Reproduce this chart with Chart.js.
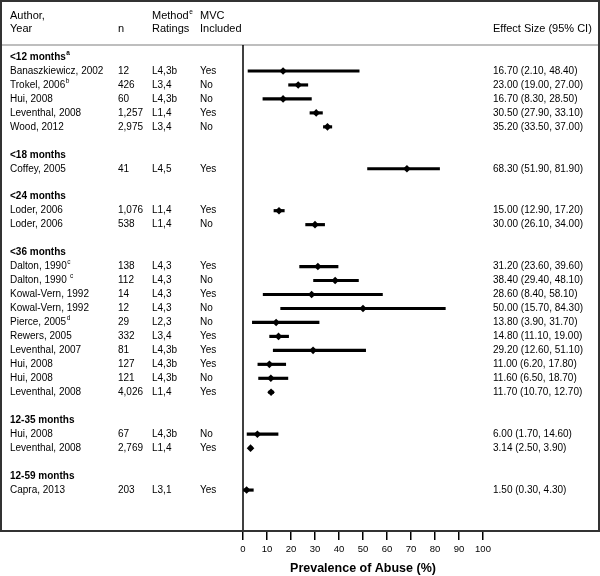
<!DOCTYPE html>
<html>
<head>
<meta charset="utf-8">
<script src="https://cdn.jsdelivr.net/npm/chart.js@4"></script>
<style>
  body { margin: 0; background: #fff; }
  #wrap { width: 600px; height: 576px; }
</style>
</head>
<body>
<div id="wrap"><canvas id="forest" width="600" height="576"></canvas></div>
<script>
// one entry per row of the plot (group headers and blank spacer rows included)
const rowLabels = [
    '<12 months', 'Banaszkiewicz, 2002', 'Trokel, 2006', 'Hui, 2008', 'Leventhal, 2008', 'Wood, 2012', '',
    '<18 months', 'Coffey, 2005', '',
    '<24 months', 'Loder, 2006', 'Loder, 2006', '',
    '<36 months', 'Dalton, 1990', 'Dalton, 1990 ', 'Kowal-Vern, 1992', 'Kowal-Vern, 1992', 'Pierce, 2005',
    'Rewers, 2005', 'Leventhal, 2007', 'Hui, 2008', 'Hui, 2008', 'Leventhal, 2008', '',
    '12-35 months', 'Hui, 2008', 'Leventhal, 2008', '',
    '12-59 months', 'Capra, 2013'
];
const rowSup = ['a', '', 'b', '', '', '', '', '', '', '', '', '', '', '', '', 'c', 'c', '', '', 'd',
    '', '', '', '', '', '', '', '', '', '', '', ''];
const groupRows = [0, 7, 10, 14, 26, 30];
const rowN = ['', '12', '426', '60', '1,257', '2,975', '', '', '41', '', '', '1,076', '538', '', '',
    '138', '112', '14', '12', '29', '332', '81', '127', '121', '4,026', '', '', '67', '2,769', '', '', '203'];
const rowMethod = ['', 'L4,3b', 'L3,4', 'L4,3b', 'L1,4', 'L3,4', '', '', 'L4,5', '', '', 'L1,4', 'L1,4', '', '',
    'L4,3', 'L4,3', 'L4,3', 'L4,3', 'L2,3', 'L3,4', 'L4,3b', 'L4,3b', 'L4,3b', 'L1,4', '', '', 'L4,3b', 'L1,4', '', '', 'L3,1'];
const rowMvc = ['', 'Yes', 'No', 'No', 'Yes', 'No', '', '', 'Yes', '', '', 'Yes', 'No', '', '',
    'Yes', 'No', 'Yes', 'No', 'No', 'Yes', 'Yes', 'Yes', 'No', 'Yes', '', '', 'No', 'Yes', '', '', 'Yes'];
const est = [null, 16.70, 23.00, 16.70, 30.50, 35.20, null, null, 68.30, null, null, 15.00, 30.00, null, null,
    31.20, 38.40, 28.60, 50.00, 13.80, 14.80, 29.20, 11.00, 11.60, 11.70, null, null, 6.00, 3.14, null, null, 1.50];
const ciLow = [null, 2.10, 19.00, 8.30, 27.90, 33.50, null, null, 51.90, null, null, 12.90, 26.10, null, null,
    23.60, 29.40, 8.40, 15.70, 3.90, 11.10, 12.60, 6.20, 6.50, 10.70, null, null, 1.70, 2.50, null, null, 0.30];
const ciHigh = [null, 48.40, 27.00, 28.50, 33.10, 37.00, null, null, 81.90, null, null, 17.20, 34.00, null, null,
    39.60, 48.10, 58.10, 84.30, 31.70, 19.00, 51.10, 17.80, 18.70, 12.70, null, null, 14.60, 3.90, null, null, 4.30];
const xTicks = [0, 10, 20, 30, 40, 50, 60, 70, 80, 90, 100];

const FONT = '"Liberation Sans", Arial, Helvetica, sans-serif';

const pointData = [];
const ciData = [];
est.forEach(function(v, i) {
    if (v === null) return;
    pointData.push({ x: v, y: i });
    ciData.push({ x: [ciLow[i], ciHigh[i]], y: i });
});

function textWithSup(ctx, text, sup, x, y, size, bold) {
    ctx.font = (bold ? 'bold ' : '') + size + 'px ' + FONT;
    ctx.fillText(text, x, y);
    if (sup) {
        const w = ctx.measureText(text).width;
        ctx.font = (bold ? 'bold ' : '') + '6.5px ' + FONT;
        ctx.fillText(sup, x + w + 0.5, y - 4);
    }
}

const tablePlugin = {
    id: 'tablePlugin',
    afterDraw(chart) {
        const ctx = chart.ctx;
        const x = chart.scales.x;
        const y = chart.scales.y;
        const area = chart.chartArea;
        ctx.save();

        // header separator
        ctx.strokeStyle = '#a8a8a8';
        ctx.lineWidth = 1.5;
        ctx.beginPath();
        ctx.moveTo(0, area.top);
        ctx.lineTo(600, area.top);
        ctx.stroke();

        // zero line
        ctx.strokeStyle = '#000';
        ctx.lineWidth = 1.5;
        const x0 = x.getPixelForValue(0);
        ctx.beginPath();
        ctx.moveTo(x0, area.top);
        ctx.lineTo(x0, area.bottom);
        ctx.stroke();

        // outer frame
        ctx.strokeStyle = '#333';
        ctx.lineWidth = 2;
        ctx.strokeRect(1, 1, 598, area.bottom - 1);

        // header
        ctx.fillStyle = '#000';
        ctx.textBaseline = 'middle';
        ctx.textAlign = 'left';
        textWithSup(ctx, 'Author,', '', 10, 16, 11, false);
        textWithSup(ctx, 'Year', '', 10, 29, 11, false);
        textWithSup(ctx, 'n', '', 118, 29, 11, false);
        textWithSup(ctx, 'Method', 'e', 152, 16, 11, false);
        textWithSup(ctx, 'Ratings', '', 152, 29, 11, false);
        textWithSup(ctx, 'MVC', '', 200, 16, 11, false);
        textWithSup(ctx, 'Included', '', 200, 29, 11, false);
        textWithSup(ctx, 'Effect Size (95% CI)', '', 493, 29, 11, false);

        // rows
        rowLabels.forEach(function(label, i) {
            const py = y.getPixelForValue(i);
            const bold = groupRows.indexOf(i) >= 0;
            if (label) textWithSup(ctx, label, rowSup[i], 10, py, 10, bold);
            if (rowN[i]) textWithSup(ctx, rowN[i], '', 118, py, 10, false);
            if (rowMethod[i]) textWithSup(ctx, rowMethod[i], '', 152, py, 10, false);
            if (rowMvc[i]) textWithSup(ctx, rowMvc[i], '', 200, py, 10, false);
            if (est[i] !== null) {
                const s = est[i].toFixed(2) + ' (' + ciLow[i].toFixed(2) + ', ' + ciHigh[i].toFixed(2) + ')';
                textWithSup(ctx, s, '', 493, py, 10, false);
            }
        });
        ctx.restore();
    }
};

new Chart(document.getElementById('forest'), {
    data: {
        datasets: [
            {
                type: 'scatter',
                data: pointData,
                pointStyle: 'rectRot',
                pointRadius: 3.8,
                pointBackgroundColor: '#000',
                pointBorderWidth: 0
            },
            {
                type: 'bar',
                indexAxis: 'y',
                data: ciData,
                backgroundColor: '#000',
                barThickness: 2.5
            }
        ]
    },
    options: {
        responsive: false,
        animation: false,
        layout: {
            padding: { left: 243, right: 117, top: 45, bottom: 0 }
        },
        plugins: {
            legend: { display: false },
            tooltip: { enabled: false }
        },
        scales: {
            x: {
                type: 'linear',
                position: 'bottom',
                min: 0,
                max: 100,
                afterBuildTicks: function(scale) {
                    scale.ticks = xTicks.map(function(v) { return { value: v }; });
                },
                ticks: {
                    color: '#000',
                    padding: 4,
                    maxRotation: 0,
                    font: { size: 9.5, family: FONT }
                },
                grid: {
                    drawOnChartArea: false,
                    drawTicks: true,
                    tickLength: 9,
                    color: '#000',
                    lineWidth: 1.5
                },
                border: { display: false },
                title: {
                    display: true,
                    text: 'Prevalence of Abuse (%)',
                    color: '#000',
                    padding: { top: 0, bottom: 0 },
                    font: { size: 12.5, weight: 'bold', family: FONT }
                },
                afterFit: function(scale) {
                    scale.height = 45;
                }
            },
            y: {
                type: 'linear',
                display: false,
                reverse: true,
                offset: false,
                min: -0.86,
                max: 33.93
            }
        }
    },
    plugins: [tablePlugin]
});
</script>
</body>
</html>
